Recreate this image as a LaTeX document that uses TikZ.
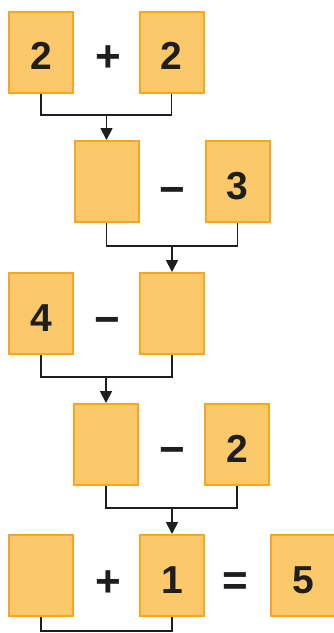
\documentclass[tikz,border=0pt]{standalone}
\usepackage{fontspec}
\setmainfont{Liberation Sans}
\usetikzlibrary{arrows.meta}
\definecolor{boxfill}{HTML}{FCC96A}
\definecolor{boxline}{HTML}{F6A623}
\definecolor{ink}{HTML}{1E1E1E}
\begin{document}
\begin{tikzpicture}[x=1pt,y=-1pt,
  numbox/.style={draw=boxline,fill=boxfill,line width=2pt,minimum width=64pt,minimum height=81pt,inner sep=0pt,
    font=\fontsize{39}{39}\selectfont\bfseries,text=ink,text height=35pt,text depth=0pt},
  op/.style={font=\fontsize{44}{44}\selectfont\bfseries,text=ink,inner sep=0pt},
  link/.style={draw=ink,line width=1.8pt},
  arr/.style={link,-{Triangle[width=12pt,length=12pt]}}]
\useasboundingbox (0,0) rectangle (334,633);
\fill[white] (0,0) rectangle (334,633);
% row 1
\node[numbox] (A1) at (41,52) {2};
\node[op] (pA) at (108,59) {+};
\node[numbox] (A2) at (171.5,52) {2};
% row 2
\node[numbox] (B1) at (106.5,181.5) {};
\node[op] (pB) at (172,196) {−};
\node[numbox] (B2) at (237.5,181.5) {3};
% row 3
\node[numbox] (C1) at (41,313.5) {4};
\node[op] (pC) at (107.5,326) {−};
\node[numbox] (C2) at (172,313.5) {};
% row 4
\node[numbox] (D1) at (106,444.5) {};
\node[op] (pD) at (172,456) {−};
\node[numbox] (D2) at (237,444.5) {2};
% row 5
\node[numbox] (E1) at (41,575.5) {};
\node[op] (pE) at (108,584) {+};
\node[numbox] (E3) at (303,575.5) {5};
\node[numbox] (E2) at (172,575.5) {1};
\node[op] (qE) at (235,584) {=};
% connectors
\coordinate (j1) at (106.5,115);
\draw[link] (A1.south) |- (j1) -| (A2.south);
\draw[arr] (j1) -- (B1.north);
\coordinate (j2) at (172,246);
\draw[link] (B1.south) |- (j2) -| (B2.south);
\draw[arr] (j2) -- (C2.north);
\coordinate (j3) at (106,377);
\draw[link] (C1.south) |- (j3) -| (C2.south);
\draw[arr] (j3) -- (D1.north);
\coordinate (j4) at (172,508);
\draw[link] (D1.south) |- (j4) -| (D2.south);
\draw[arr] (j4) -- (E2.north);
\coordinate (j5) at (106,631);
\draw[link] (E1.south) |- (j5) -| (E2.south);
\end{tikzpicture}
\end{document}
